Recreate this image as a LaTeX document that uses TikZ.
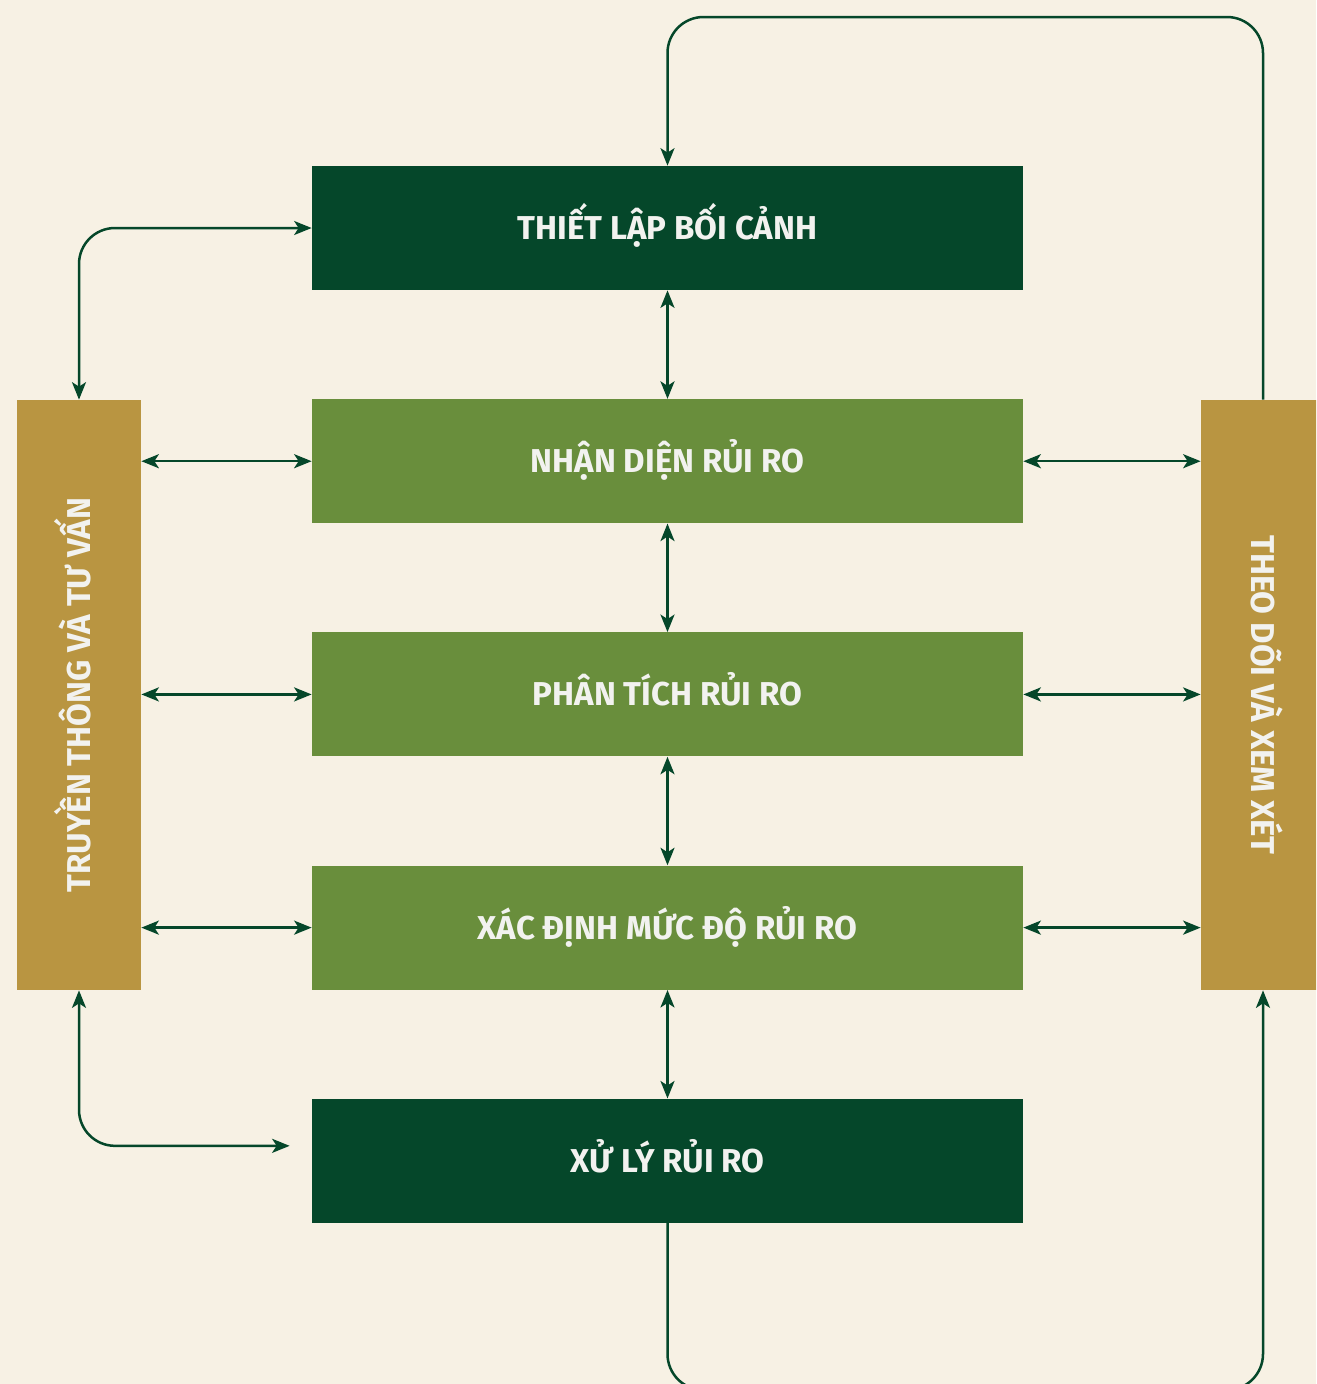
\documentclass[tikz,border=0pt]{standalone}
\usepackage{fontspec}
\setmainfont{Fira Sans}
\usepackage{xcolor}
\usepackage{tikz}
\usetikzlibrary{arrows.meta, positioning, calc}

\definecolor{bgcream}{HTML}{F7F1E4}
\definecolor{darkgreen}{HTML}{05472A}
\definecolor{leafgreen}{HTML}{698E3C}
\definecolor{gold}{HTML}{B99541}
\definecolor{labelgrey}{HTML}{F2F2EF}

\newcommand{\barlabel}[2]{\rotatebox{#1}{\raisebox{-0.34em}[0pt][0pt]{#2}}}

\begin{document}
\begin{tikzpicture}[
    x=0.2mm, y=-0.2mm,
    node distance=21.7mm,
    box/.style={rectangle, minimum width=142.2mm, minimum height=24.8mm, inner sep=0pt, text height=13pt, text depth=0pt, text=labelgrey, font=\bfseries\fontsize{18.8}{22}\selectfont},
    darkbox/.style={box, fill=darkgreen},
    greenbox/.style={box, fill=leafgreen},
    sidebar/.style={rectangle, fill=gold, minimum width=24.8mm, minimum height=118mm, inner sep=0pt, text=labelgrey, font=\bfseries\fontsize{18.8}{22}\selectfont},
    arrow/.style={-{Stealth[length=3.5mm, width=2.8mm, inset=0.9mm]}, line width=0.5mm, draw=darkgreen},
    both/.style={{Stealth[length=3.5mm, width=2.8mm, inset=0.9mm]}-{Stealth[length=3.5mm, width=2.8mm, inset=0.9mm]}, line width=0.5mm, draw=darkgreen}
]

% Background
\useasboundingbox (0,0) rectangle (1316,1384);
\clip (0,0) rectangle (1316,1384);
\fill[bgcream] (0,0) rectangle (1316,1384);

% Nodes
\node[darkbox] (context) at (667.5,228) {THIẾT LẬP BỐI CẢNH};
\node[greenbox, below=of context] (identify) {NHẬN DIỆN RỦI RO};
\node[greenbox, below=of identify] (analyse) {PHÂN TÍCH RỦI RO};
\node[greenbox, below=of analyse] (evaluate) {XÁC ĐỊNH MỨC ĐỘ RỦI RO};
\node[darkbox, below=of evaluate] (treat) {XỬ LÝ RỦI RO};
\node[sidebar] (comm) at (79,695) {\barlabel{90}{TRUYỀN THÔNG VÀ TƯ VẤN}};
\node[sidebar] (monitor) at (1263,695) {\barlabel{-90}{THEO DÕI VÀ XEM XÉT}};

\coordinate (looptop) at (0,17);
\coordinate (loopbottom) at (0,1390);
\coordinate (treatin) at ($(treat.west)+(-22,-15)$);

% Arrows
\draw[both] (context) -- (identify);
\draw[both] (identify) -- (analyse);
\draw[both] (analyse) -- (evaluate);
\draw[both] (evaluate) -- (treat);
\foreach \step in {identify, analyse, evaluate} {
    \draw[both] (comm.east |- \step.west) -- (\step.west);
    \draw[both] (\step.east) -- (monitor.west |- \step.east);
}
\draw[both, rounded corners=7.2mm] (comm.north) |- (context.west);
\draw[both, rounded corners=7.2mm] (comm.south) |- (treatin);
\draw[arrow, rounded corners=7.2mm] (monitor.north) -- (monitor.north |- looptop) -- (context.north |- looptop) -- (context.north);
\draw[arrow, rounded corners=7.2mm] (treat.south) -- (treat.south |- loopbottom) -- (monitor.south |- loopbottom) -- (monitor.south);

\end{tikzpicture}
\end{document}
